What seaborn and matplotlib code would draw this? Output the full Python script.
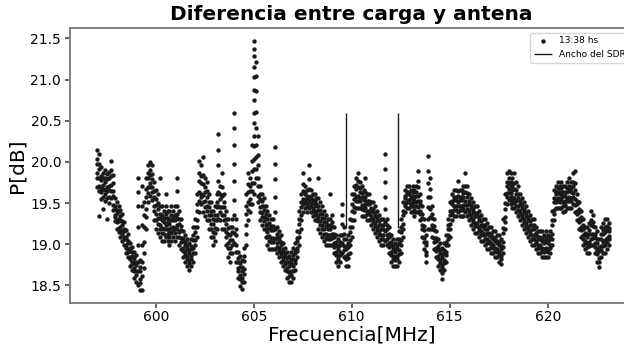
import matplotlib
matplotlib.use("Agg")
import matplotlib.pyplot as plt
import seaborn as sns
import pandas as pd

# Barrido 13:38 hs, diferencia carga - antena (dB)
f597 = [597.0, 597.1, 597.2, 597.3, 597.4, 597.5, 597.6, 597.7, 597.8, 597.9]
p597 = [
    (20.15, 20.04, 19.98, 19.87, 19.80, 19.69),
    (20.10, 19.97, 19.92, 19.81, 19.71, 19.65, 19.34),
    (19.94, 19.83, 19.78, 19.68, 19.63, 19.55),
    (19.87, 19.81, 19.72, 19.67, 19.58, 19.43),
    (19.90, 19.80, 19.76, 19.66, 19.61, 19.52),
    (19.85, 19.79, 19.70, 19.65, 19.56, 19.31),
    (19.88, 19.81, 19.71, 19.66, 19.57, 19.50),
    (20.01, 19.90, 19.83, 19.72, 19.65, 19.56),
    (19.84, 19.75, 19.65, 19.59, 19.48, 19.42),
    (19.56, 19.47, 19.43, 19.36, 19.33, 19.28),
]
f598 = [598.0, 598.1, 598.2, 598.3, 598.4, 598.5, 598.6, 598.7, 598.8, 598.9]
p598 = [
    (19.51, 19.42, 19.38, 19.30, 19.27, 19.19),
    (19.46, 19.40, 19.31, 19.28, 19.20, 19.15),
    (19.42, 19.34, 19.29, 19.21, 19.17, 19.09),
    (19.37, 19.28, 19.24, 19.16, 19.12, 19.04),
    (19.27, 19.19, 19.16, 19.09, 19.06, 18.99),
    (19.17, 19.09, 19.06, 18.99, 18.96, 18.89),
    (19.12, 19.04, 19.01, 18.94, 18.91, 18.84),
    (19.02, 18.95, 18.92, 18.85, 18.82, 18.74),
    (18.97, 18.90, 18.86, 18.79, 18.76, 18.69),
    (18.91, 18.83, 18.79, 18.71, 18.67, 18.59),
]
f599 = [599.0, 599.1, 599.2, 599.3, 599.4, 599.5, 599.6, 599.7, 599.8, 599.9]
p599 = [
    (18.87, 18.79, 18.75, 18.67, 18.63, 18.54),
    (19.81, 19.63, 19.46, 19.21, 18.99, 18.79, 18.67, 18.51),
    (18.81, 18.72, 18.67, 18.58, 18.53, 18.44),
    (19.71, 19.47, 19.23, 18.99, 18.79, 18.61, 18.45),
    (19.51, 19.35, 19.21, 19.03, 18.89, 18.71),
    (19.81, 19.67, 19.57, 19.43, 19.33, 19.19),
    (19.96, 19.86, 19.80, 19.69, 19.62, 19.51),
    (20.00, 19.90, 19.84, 19.74, 19.69, 19.59),
    (19.96, 19.85, 19.79, 19.69, 19.63, 19.54),
    (19.76, 19.65, 19.58, 19.47, 19.40, 19.29),
]
f600 = [600.0, 600.1, 600.2, 600.3, 600.4, 600.5, 600.6, 600.7, 600.8, 600.9]
p600 = [
    (19.66, 19.55, 19.48, 19.37, 19.30, 19.19),
    (19.61, 19.50, 19.43, 19.32, 19.25, 19.14),
    (19.81, 19.46, 19.37, 19.32, 19.23, 19.18, 19.09),
    (19.46, 19.36, 19.30, 19.20, 19.14, 19.04),
    (19.41, 19.32, 19.27, 19.18, 19.13, 19.04),
    (19.61, 19.46, 19.37, 19.32, 19.23, 19.18, 19.09),
    (19.41, 19.32, 19.27, 19.18, 19.13, 19.04),
    (19.41, 19.31, 19.25, 19.15, 19.09, 18.99),
    (19.46, 19.36, 19.30, 19.20, 19.14, 19.04),
    (19.41, 19.33, 19.29, 19.21, 19.17, 19.09),
]
f601 = [601.0, 601.1, 601.2, 601.3, 601.4, 601.5, 601.6, 601.7, 601.8, 601.9]
p601 = [
    (19.46, 19.36, 19.30, 19.20, 19.14, 19.04),
    (19.81, 19.65, 19.46, 19.37, 19.32, 19.23, 19.18, 19.09),
    (19.41, 19.31, 19.25, 19.15, 19.09, 18.99),
    (19.31, 19.22, 19.17, 19.08, 19.03, 18.94),
    (19.16, 19.08, 19.04, 18.96, 18.92, 18.84),
    (19.11, 19.03, 18.99, 18.91, 18.87, 18.79),
    (19.06, 18.98, 18.94, 18.86, 18.82, 18.74),
    (19.01, 18.93, 18.89, 18.81, 18.77, 18.69),
    (19.06, 18.98, 18.94, 18.86, 18.82, 18.74),
    (19.21, 19.11, 19.05, 18.95, 18.89, 18.79),
]
f602 = [602.0, 602.1, 602.2, 602.3, 602.4, 602.5, 602.6, 602.7, 602.8, 602.9]
p602 = [
    (19.31, 19.21, 19.15, 19.05, 18.99, 18.89),
    (19.61, 19.49, 19.41, 19.29, 19.21, 19.09),
    (20.01, 19.87, 19.77, 19.63, 19.53, 19.39),
    (19.96, 19.83, 19.74, 19.61, 19.57, 19.49),
    (20.06, 19.84, 19.73, 19.60, 19.51, 19.39),
    (19.81, 19.70, 19.63, 19.52, 19.45, 19.34),
    (19.76, 19.65, 19.58, 19.47, 19.40, 19.29),
    (19.61, 19.51, 19.45, 19.35, 19.29, 19.19),
    (19.51, 19.41, 19.35, 19.25, 19.19, 19.09),
    (19.41, 19.31, 19.25, 19.15, 19.09, 18.99),
]
f603 = [603.0, 603.1, 603.2, 603.3, 603.4, 603.5, 603.6, 603.7, 603.8, 603.9]
p603 = [
    (19.46, 19.36, 19.30, 19.20, 19.14, 19.04),
    (19.61, 19.51, 19.45, 19.35, 19.29, 19.19),
    (20.34, 20.14, 19.96, 19.77, 19.63, 19.47, 19.31),
    (19.71, 19.61, 19.55, 19.45, 19.39, 19.29),
    (19.86, 19.69, 19.59, 19.45, 19.35, 19.19),
    (19.61, 19.51, 19.45, 19.35, 19.29, 19.19),
    (19.41, 19.31, 19.25, 19.15, 19.09, 18.99),
    (19.31, 19.20, 19.13, 19.02, 18.95, 18.84),
    (19.21, 19.11, 19.05, 18.95, 18.89, 18.79),
    (19.31, 19.21, 19.15, 19.05, 18.99, 18.89),
]
f604 = [604.0, 604.1, 604.2, 604.3, 604.4, 604.5, 604.6, 604.7, 604.8, 604.9]
p604 = [
    (20.60, 20.41, 20.21, 19.97, 19.77, 19.54, 19.36, 19.14, 19.01),
    (19.31, 19.19, 19.11, 18.99, 18.91, 18.79),
    (18.91, 18.83, 18.79, 18.71, 18.67, 18.59),
    (18.86, 18.77, 18.72, 18.63, 18.58, 18.49),
    (18.81, 18.72, 18.67, 18.59, 18.54, 18.46),
    (18.96, 18.86, 18.80, 18.70, 18.64, 18.54),
    (19.61, 19.47, 19.37, 19.23, 19.13, 18.99),
    (19.86, 19.73, 19.64, 19.51, 19.42, 19.29),
    (19.81, 19.71, 19.65, 19.55, 19.49, 19.39),
    (20.21, 20.01, 19.89, 19.75, 19.65, 19.49),
]
f605 = [605.0, 605.1, 605.2, 605.3, 605.4, 605.5, 605.6, 605.7, 605.8, 605.9]
p605 = [
    (21.47, 21.37, 21.29, 21.15, 21.03, 20.87, 20.75, 20.59, 20.47, 20.31,
     20.19, 20.03, 19.91, 19.75, 19.61),
    (21.21, 21.04, 20.86, 20.61, 20.41, 20.21, 20.06, 19.91, 19.81),
    (20.31, 20.09, 19.96, 19.81, 19.71, 19.59, 19.51),
    (19.71, 19.61, 19.55, 19.45, 19.39, 19.29),
    (19.61, 19.52, 19.47, 19.38, 19.33, 19.24),
    (19.56, 19.47, 19.42, 19.33, 19.28, 19.19),
    (19.46, 19.37, 19.32, 19.23, 19.18, 19.09),
    (19.41, 19.31, 19.25, 19.15, 19.09, 18.99),
    (19.36, 19.26, 19.20, 19.10, 19.04, 18.94),
    (19.31, 19.22, 19.17, 19.08, 19.03, 18.94),
]
f606 = [606.0, 606.1, 606.2, 606.3, 606.4, 606.5, 606.6, 606.7, 606.8, 606.9]
p606 = [
    (19.31, 19.22, 19.17, 19.08, 19.03, 18.94),
    (20.18, 19.97, 19.79, 19.57, 19.39, 19.19, 19.06, 18.94),
    (19.21, 19.13, 19.09, 19.01, 18.97, 18.89),
    (19.16, 19.08, 19.04, 18.96, 18.92, 18.84),
    (19.11, 19.03, 18.99, 18.91, 18.87, 18.79),
    (19.01, 18.94, 18.91, 18.84, 18.81, 18.74),
    (18.96, 18.89, 18.86, 18.79, 18.76, 18.69),
    (18.91, 18.83, 18.79, 18.71, 18.67, 18.59),
    (18.86, 18.78, 18.74, 18.66, 18.62, 18.54),
    (18.91, 18.82, 18.77, 18.68, 18.63, 18.54),
]
f607 = [607.0, 607.1, 607.2, 607.3, 607.4, 607.5, 607.6, 607.7, 607.8, 607.9]
p607 = [
    (18.96, 18.87, 18.82, 18.73, 18.68, 18.59),
    (19.01, 18.93, 18.89, 18.81, 18.77, 18.69),
    (19.16, 19.08, 19.04, 18.96, 18.92, 18.84),
    (19.41, 19.31, 19.25, 19.15, 19.09, 18.99),
    (19.61, 19.51, 19.45, 19.35, 19.29, 19.19),
    (19.86, 19.73, 19.65, 19.55, 19.49, 19.39),
    (19.71, 19.64, 19.61, 19.54, 19.51, 19.44),
    (19.66, 19.59, 19.56, 19.49, 19.46, 19.39),
    (19.96, 19.79, 19.67, 19.57, 19.52, 19.44),
    (19.66, 19.59, 19.56, 19.49, 19.46, 19.39),
]
f608 = [608.0, 608.1, 608.2, 608.3, 608.4, 608.5, 608.6, 608.7, 608.8, 608.9]
p608 = [
    (19.61, 19.54, 19.51, 19.44, 19.41, 19.34),
    (19.61, 19.53, 19.49, 19.41, 19.37, 19.29),
    (19.56, 19.49, 19.46, 19.39, 19.36, 19.29),
    (19.81, 19.56, 19.47, 19.42, 19.33, 19.28, 19.19),
    (19.51, 19.42, 19.37, 19.28, 19.23, 19.14),
    (19.46, 19.37, 19.32, 19.23, 19.18, 19.09),
    (19.41, 19.32, 19.27, 19.18, 19.13, 19.04),
    (19.36, 19.27, 19.22, 19.13, 19.08, 18.99),
    (19.31, 19.23, 19.19, 19.11, 19.07, 18.99),
    (19.61, 19.31, 19.23, 19.19, 19.11, 19.07, 18.99),
]
f609 = [609.0, 609.1, 609.2, 609.3, 609.4, 609.5, 609.6, 609.7, 609.8, 609.9]
p609 = [
    (19.36, 19.27, 19.22, 19.13, 19.08, 18.99),
    (19.21, 19.13, 19.09, 19.01, 18.97, 18.89),
    (19.11, 19.03, 18.99, 18.91, 18.87, 18.79),
    (19.06, 18.98, 18.94, 18.86, 18.82, 18.74),
    (19.11, 19.03, 18.99, 18.91, 18.87, 18.79),
    (19.49, 19.35, 19.25, 19.11, 19.01, 18.89),
    (19.21, 19.12, 19.07, 18.98, 18.93, 18.84),
    (19.06, 18.98, 18.94, 18.86, 18.82, 18.74),
    (19.11, 19.02, 18.97, 18.88, 18.83, 18.74),
    (19.31, 19.21, 19.15, 19.05, 18.99, 18.89),
]
f610 = [610.0, 610.1, 610.2, 610.3, 610.4, 610.5, 610.6, 610.7, 610.8, 610.9]
p610 = [
    (19.61, 19.49, 19.41, 19.29, 19.21, 19.09),
    (19.71, 19.61, 19.55, 19.45, 19.39, 19.29),
    (19.81, 19.72, 19.67, 19.58, 19.53, 19.44),
    (19.87, 19.77, 19.70, 19.59, 19.53, 19.44),
    (19.76, 19.68, 19.64, 19.56, 19.52, 19.44),
    (19.71, 19.62, 19.57, 19.48, 19.43, 19.34),
    (19.66, 19.58, 19.54, 19.46, 19.42, 19.34),
    (19.81, 19.63, 19.58, 19.49, 19.44, 19.34),
    (19.61, 19.53, 19.49, 19.41, 19.37, 19.29),
    (19.61, 19.53, 19.49, 19.41, 19.37, 19.29),
]
f611 = [611.0, 611.1, 611.2, 611.3, 611.4, 611.5, 611.6, 611.7, 611.8, 611.9]
p611 = [
    (19.51, 19.44, 19.41, 19.34, 19.31, 19.24),
    (19.51, 19.43, 19.39, 19.31, 19.27, 19.19),
    (19.46, 19.38, 19.34, 19.26, 19.22, 19.14),
    (19.41, 19.33, 19.29, 19.21, 19.17, 19.09),
    (19.36, 19.28, 19.24, 19.16, 19.12, 19.04),
    (19.31, 19.23, 19.19, 19.11, 19.07, 18.99),
    (19.31, 19.23, 19.19, 19.11, 19.07, 18.99),
    (20.10, 19.91, 19.76, 19.57, 19.43, 19.27, 19.16, 19.04),
    (19.31, 19.23, 19.19, 19.11, 19.07, 18.99),
    (19.21, 19.13, 19.09, 19.01, 18.97, 18.89),
]
f612 = [612.0, 612.1, 612.2, 612.3, 612.4, 612.5, 612.6, 612.7, 612.8, 612.9]
p612 = [
    (19.11, 19.03, 18.99, 18.91, 18.87, 18.79),
    (19.06, 18.98, 18.94, 18.86, 18.82, 18.74),
    (19.01, 18.94, 18.91, 18.84, 18.81, 18.74),
    (19.06, 18.98, 18.94, 18.86, 18.82, 18.74),
    (19.16, 19.07, 19.02, 18.93, 18.88, 18.79),
    (19.31, 19.21, 19.15, 19.05, 18.99, 18.89),
    (19.51, 19.41, 19.35, 19.25, 19.19, 19.09),
    (19.66, 19.59, 19.56, 19.49, 19.46, 19.39),
    (19.71, 19.64, 19.61, 19.54, 19.51, 19.44),
    (19.71, 19.64, 19.61, 19.54, 19.51, 19.44),
]
f613 = [613.0, 613.1, 613.2, 613.3, 613.4, 613.5, 613.6, 613.7, 613.8, 613.9]
p613 = [
    (19.66, 19.59, 19.56, 19.49, 19.46, 19.39),
    (19.71, 19.63, 19.59, 19.51, 19.47, 19.39),
    (19.66, 19.58, 19.54, 19.46, 19.42, 19.34),
    (19.71, 19.63, 19.59, 19.51, 19.47, 19.39),
    (19.89, 19.77, 19.69, 19.59, 19.53, 19.45, 19.39),
    (19.61, 19.53, 19.49, 19.41, 19.37, 19.29),
    (19.46, 19.37, 19.32, 19.23, 19.18, 19.09),
    (19.31, 19.22, 19.17, 19.08, 19.03, 18.94),
    (19.11, 19.03, 18.99, 18.91, 18.87, 18.79),
    (20.07, 19.89, 19.75, 19.57, 19.45, 19.31, 19.19),
]
f614 = [614.0, 614.1, 614.2, 614.3, 614.4, 614.5, 614.6, 614.7, 614.8, 614.9]
p614 = [
    (19.81, 19.67, 19.57, 19.43, 19.33, 19.19),
    (19.46, 19.37, 19.32, 19.23, 19.18, 19.09),
    (19.31, 19.22, 19.17, 19.08, 19.03, 18.94),
    (19.16, 19.08, 19.04, 18.96, 18.92, 18.84),
    (19.06, 18.98, 18.94, 18.86, 18.82, 18.74),
    (19.01, 18.93, 18.89, 18.81, 18.77, 18.69),
    (18.96, 18.88, 18.84, 18.76, 18.72, 18.65, 18.58),
    (19.01, 18.93, 18.89, 18.81, 18.77, 18.69),
    (19.11, 19.03, 18.99, 18.91, 18.87, 18.79),
    (19.31, 19.23, 19.19, 19.11, 19.07, 18.99),
]
f615 = [615.0, 615.1, 615.2, 615.3, 615.4, 615.5, 615.6, 615.7, 615.8, 615.9]
p615 = [
    (19.51, 19.41, 19.35, 19.25, 19.19, 19.09),
    (19.61, 19.53, 19.49, 19.41, 19.37, 19.29),
    (19.66, 19.58, 19.54, 19.46, 19.42, 19.34),
    (19.66, 19.58, 19.54, 19.46, 19.42, 19.34),
    (19.77, 19.65, 19.59, 19.51, 19.47, 19.39),
    (19.66, 19.58, 19.54, 19.46, 19.42, 19.34),
    (19.66, 19.58, 19.54, 19.46, 19.42, 19.34),
    (19.71, 19.62, 19.57, 19.48, 19.43, 19.34),
    (19.86, 19.71, 19.63, 19.53, 19.48, 19.39),
    (19.71, 19.62, 19.57, 19.48, 19.43, 19.34),
]
f616 = [616.0, 616.1, 616.2, 616.3, 616.4, 616.5, 616.6, 616.7, 616.8, 616.9]
p616 = [
    (19.61, 19.53, 19.49, 19.41, 19.37, 19.29),
    (19.56, 19.48, 19.44, 19.36, 19.32, 19.24),
    (19.51, 19.43, 19.39, 19.31, 19.27, 19.19),
    (19.46, 19.38, 19.34, 19.26, 19.22, 19.14),
    (19.46, 19.38, 19.34, 19.26, 19.22, 19.14),
    (19.41, 19.33, 19.29, 19.21, 19.17, 19.09),
    (19.36, 19.28, 19.24, 19.16, 19.12, 19.04),
    (19.31, 19.24, 19.21, 19.14, 19.11, 19.04),
    (19.31, 19.23, 19.19, 19.11, 19.07, 18.99),
    (19.26, 19.18, 19.14, 19.06, 19.02, 18.94),
]
f617 = [617.0, 617.1, 617.2, 617.3, 617.4, 617.5, 617.6, 617.7, 617.8, 617.9]
p617 = [
    (19.21, 19.14, 19.11, 19.04, 19.01, 18.94),
    (19.21, 19.13, 19.09, 19.01, 18.97, 18.89),
    (19.16, 19.09, 19.06, 18.99, 18.96, 18.89),
    (19.16, 19.08, 19.04, 18.96, 18.92, 18.84),
    (19.11, 19.04, 19.01, 18.94, 18.91, 18.84),
    (19.11, 19.03, 18.99, 18.91, 18.87, 18.79),
    (19.06, 18.98, 18.94, 18.86, 18.82, 18.76),
    (19.31, 19.20, 19.14, 19.03, 18.97, 18.89),
    (19.61, 19.50, 19.43, 19.33, 19.27, 19.19),
    (19.86, 19.76, 19.71, 19.62, 19.57, 19.49),
]
f618 = [618.0, 618.1, 618.2, 618.3, 618.4, 618.5, 618.6, 618.7, 618.8, 618.9]
p618 = [
    (19.89, 19.80, 19.75, 19.67, 19.62, 19.54),
    (19.86, 19.76, 19.71, 19.62, 19.57, 19.49),
    (19.81, 19.71, 19.66, 19.57, 19.52, 19.44),
    (19.86, 19.74, 19.67, 19.56, 19.50, 19.44),
    (19.76, 19.66, 19.61, 19.52, 19.47, 19.39),
    (19.71, 19.61, 19.56, 19.47, 19.42, 19.34),
    (19.61, 19.53, 19.49, 19.41, 19.37, 19.29),
    (19.56, 19.48, 19.44, 19.36, 19.32, 19.24),
    (19.51, 19.43, 19.39, 19.31, 19.27, 19.19),
    (19.46, 19.38, 19.34, 19.26, 19.22, 19.14),
]
f619 = [619.0, 619.1, 619.2, 619.3, 619.4, 619.5, 619.6, 619.7, 619.8, 619.9]
p619 = [
    (19.41, 19.33, 19.29, 19.21, 19.17, 19.09),
    (19.36, 19.28, 19.24, 19.16, 19.12, 19.04),
    (19.31, 19.23, 19.19, 19.11, 19.07, 18.99),
    (19.31, 19.23, 19.19, 19.11, 19.07, 18.99),
    (19.21, 19.14, 19.11, 19.04, 19.01, 18.94),
    (19.16, 19.09, 19.06, 18.99, 18.96, 18.89),
    (19.16, 19.09, 19.06, 18.99, 18.96, 18.89),
    (19.16, 19.08, 19.04, 18.96, 18.92, 18.84),
    (19.11, 19.04, 19.01, 18.94, 18.91, 18.84),
    (19.16, 19.08, 19.04, 18.96, 18.92, 18.84),
]
f620 = [620.0, 620.1, 620.2, 620.3, 620.4, 620.5, 620.6, 620.7, 620.8, 620.9]
p620 = [
    (19.11, 19.04, 19.01, 18.94, 18.91, 18.84),
    (19.16, 19.09, 19.06, 18.99, 18.96, 18.89),
    (19.41, 19.30, 19.24, 19.13, 19.07, 18.99),
    (19.66, 19.56, 19.51, 19.42, 19.37, 19.29),
    (19.71, 19.64, 19.61, 19.54, 19.51, 19.44),
    (19.76, 19.68, 19.64, 19.56, 19.52, 19.44),
    (19.71, 19.64, 19.61, 19.54, 19.51, 19.44),
    (19.76, 19.68, 19.64, 19.56, 19.52, 19.44),
    (19.71, 19.63, 19.59, 19.51, 19.47, 19.39),
    (19.71, 19.63, 19.59, 19.52, 19.48, 19.41),
]
f621 = [621.0, 621.1, 621.2, 621.3, 621.4, 621.5, 621.6, 621.7, 621.8, 621.9]
p621 = [
    (19.76, 19.68, 19.64, 19.56, 19.52, 19.44),
    (19.81, 19.71, 19.66, 19.57, 19.52, 19.44),
    (19.76, 19.68, 19.64, 19.56, 19.52, 19.44),
    (19.86, 19.76, 19.71, 19.62, 19.57, 19.49),
    (19.89, 19.75, 19.66, 19.55, 19.48, 19.39),
    (19.61, 19.53, 19.49, 19.41, 19.37, 19.29),
    (19.51, 19.43, 19.39, 19.31, 19.27, 19.19),
    (19.41, 19.33, 19.29, 19.21, 19.17, 19.09),
    (19.31, 19.23, 19.19, 19.11, 19.07, 18.99),
    (19.21, 19.14, 19.11, 19.04, 19.01, 18.94),
]
f622 = [622.0, 622.1, 622.2, 622.3, 622.4, 622.5, 622.6, 622.7, 622.8, 622.9]
p622 = [
    (19.21, 19.13, 19.09, 19.01, 18.97, 18.89),
    (19.26, 19.17, 19.12, 19.03, 18.98, 18.89),
    (19.41, 19.30, 19.24, 19.13, 19.07, 18.99),
    (19.36, 19.27, 19.22, 19.13, 19.08, 18.99),
    (19.21, 19.13, 19.09, 19.01, 18.97, 18.89),
    (19.16, 19.07, 19.02, 18.93, 18.88, 18.79),
    (19.06, 18.97, 18.92, 18.83, 18.78, 18.72),
    (19.21, 19.12, 19.07, 18.98, 18.93, 18.84),
    (19.26, 19.17, 19.12, 19.03, 18.98, 18.89),
    (19.31, 19.21, 19.15, 19.05, 18.99, 18.89),
]
f623 = [623.0, 623.1]
p623 = [
    (19.31, 19.22, 19.17, 19.08, 19.03, 18.94),
    (19.26, 19.20, 19.16, 19.10, 19.06, 18.99),
]

# limites del ancho de banda del SDR
sdr_frec = [609.7, 612.35]
sdr_pot = [19.2, 20.6]

xticks = [600, 605, 610, 615, 620]
yticks = [18.5, 19.0, 19.5, 20.0, 20.5, 21.0, 21.5]

segmentos = [
    (f597, p597), (f598, p598), (f599, p599), (f600, p600), (f601, p601),
    (f602, p602), (f603, p603), (f604, p604), (f605, p605), (f606, p606),
    (f607, p607), (f608, p608), (f609, p609), (f610, p610), (f611, p611),
    (f612, p612), (f613, p613), (f614, p614), (f615, p615), (f616, p616),
    (f617, p617), (f618, p618), (f619, p619), (f620, p620), (f621, p621),
    (f622, p622), (f623, p623),
]
filas = []
for frecs, pots in segmentos:
    for f, ys in zip(frecs, pots):
        for y in ys:
            filas.append((f, y))
df = pd.DataFrame(filas, columns=["Frecuencia", "P"])

sns.set_theme(style="ticks", rc={
    "axes.edgecolor": "0.5",
    "axes.linewidth": 1.4,
    "text.color": "black",
    "axes.labelcolor": "black",
    "xtick.color": "0.3",
    "ytick.color": "0.3",
    "xtick.labelcolor": "black",
    "ytick.labelcolor": "black",
    "xtick.major.size": 3.5,
    "ytick.major.size": 3.5,
    "xtick.major.pad": 2,
    "ytick.major.pad": 2.5,
})
plt.rcParams["font.family"] = ["DejaVu Sans"]

fig = plt.figure(figsize=(6.24, 3.45), dpi=100)
ax = fig.add_axes([0.1114, 0.1226, 0.9046, 0.7954])

sns.scatterplot(data=df, x="Frecuencia", y="P", color="k", s=10,
                linewidth=0, ax=ax, label="13:38 hs")
ax.vlines(sdr_frec, sdr_pot[0], sdr_pot[1], color="k", lw=1,
          label="Ancho del SDR")

ax.set_xlim(595.6, 624.4)
ax.set_ylim(18.29, 21.624)
ax.set_xticks(xticks)
ax.set_yticks(yticks)
ax.tick_params(labelsize=10)
ax.set_xlabel("Frecuencia[MHz]", fontsize=14.5, labelpad=1)
ax.set_ylabel("P[dB]", fontsize=14.5, labelpad=3)
ax.set_title("Diferencia entre carga y antena", fontsize=14.5,
             fontweight="bold", color="black")
ax.legend(loc="upper right", fontsize=6.5)

fig.savefig("out.png", dpi=100)
plt.close(fig)
